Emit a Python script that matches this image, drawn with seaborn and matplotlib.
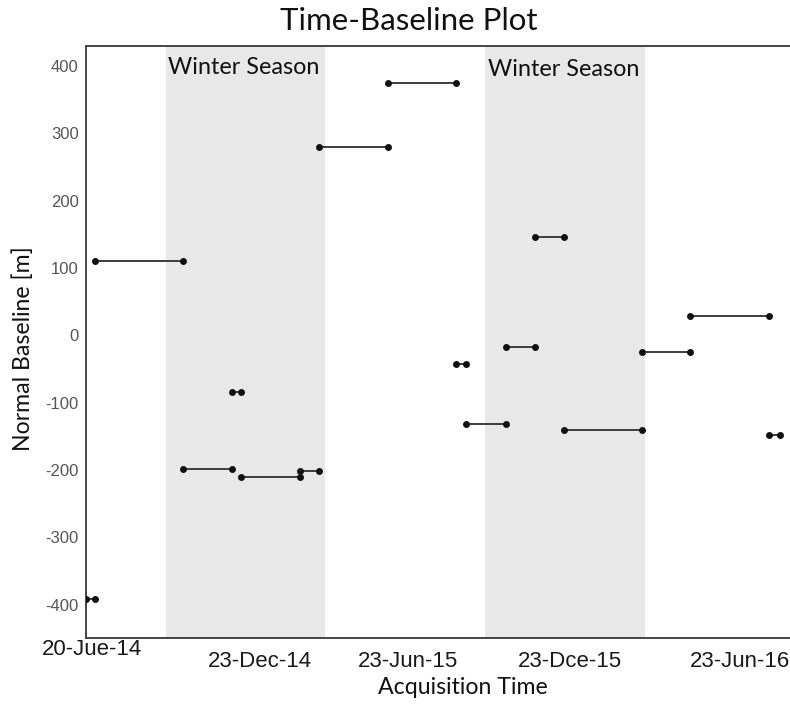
import numpy as np
import pandas as pd
import matplotlib
matplotlib.use("Agg")
import matplotlib.pyplot as plt
import seaborn as sns
from matplotlib.transforms import ScaledTranslation

# ---- data ----
acq_dates = ["2014-06-20", "2014-07-01", "2014-10-11", "2014-12-07", "2014-12-18",
             "2015-02-25", "2015-03-19", "2015-06-07", "2015-08-25", "2015-09-06",
             "2015-10-22", "2015-11-25", "2015-12-29", "2016-03-29", "2016-05-24",
             "2016-08-24", "2016-09-05"]
baselines = [-392, 111, -198, -84, -210, -202, 280, 375, -43, -132,
             -17, 146, -140, -25, 29, -148]
tick_days = [0, 93, 186, 279, 372, 465, 558, 651, 744]
tick_labels = ["20-Jue-14", "", "23-Dec-14", "", "23-Jun-15", "", "23-Dce-15", "", "23-Jun-16"]
winter_days = [(93, 279), (465, 651)]
winter_label = "Winter Season"
y_ticks = [-400, -300, -200, -100, 0, 100, 200, 300, 400]

# ---- build table ----
dates = pd.to_datetime(acq_dates)
days = (dates - dates[0]).days.to_numpy()
rows = []
for i, b in enumerate(baselines):
    rows.append({"pair": i, "day": days[i], "baseline": b})
    rows.append({"pair": i, "day": days[i + 1], "baseline": b})
df = pd.DataFrame(rows)

sns.set_theme(style="white")
plt.rcParams["font.family"] = ["Liberation Sans", "DejaVu Sans"]

fig = plt.figure(figsize=(7.9, 7.11), dpi=100)
ax = fig.add_axes([0.1084, 0.102, 0.8916, 0.8337])

for k, (a, b) in enumerate(winter_days):
    ax.axvspan(a, b, color="#e8e8e8", zorder=0, lw=0)
    ax.text((a + b) / 2 - 2, 398 - 4 * k, winter_label, ha="center", va="center",
            fontsize=16.8, family=["Lato", "DejaVu Sans"], color="#111111")

sns.lineplot(data=df, x="day", y="baseline", units="pair", estimator=None,
             color="#3c3c3c", lw=1.4, marker="o", markersize=5,
             markeredgewidth=0, markerfacecolor="#111111", legend=False, ax=ax, zorder=3)

ax.set_xlim(0, 820)
ax.set_ylim(-450, 430)
ax.set_xticks(tick_days)
ax.set_xticklabels(tick_labels, fontsize=16, color="#1a1a1a")
ax.set_yticks(y_ticks)
ax.set_yticklabels([str(v) for v in y_ticks], fontsize=12, color="#555555")
ax.tick_params(axis="both", direction="in", length=5, width=1, color="#666666")
ax.tick_params(axis="x", pad=9)
ax.tick_params(axis="y", pad=5)
ax.set_xlabel("")
ax.set_ylabel("")
for s in ["left", "bottom", "top"]:
    ax.spines[s].set_color("#444444")
    ax.spines[s].set_linewidth(1.4)
ax.spines["right"].set_visible(False)

# individual label offsets (px)
offsets = [(6, 12), (0, 0), (15, 0), (0, 0), (3, 0), (0, 0), (5, 0), (0, 0), (15, 0)]
for lab, (dx, dy) in zip(ax.get_xticklabels(), offsets):
    lab.set_transform(lab.get_transform() + ScaledTranslation(dx / 100, dy / 100, fig.dpi_scale_trans))

fig.text(408.5 / 790, 1 - 21 / 711, "Time-Baseline Plot", ha="center", va="center",
         fontsize=22.5, family=["Lato", "DejaVu Sans"], color="#111111")
fig.text(463 / 790, 1 - 688 / 711, "Acquisition Time", ha="center", va="center",
         fontsize=16.7, family=["Lato", "DejaVu Sans"], color="#111111")
fig.text(23 / 790, 1 - 349 / 711, "Normal Baseline [m]", ha="center", va="center",
         rotation=90, fontsize=16.6, family=["Lato", "DejaVu Sans"], color="#111111")

fig.savefig("out.png", dpi=100)
